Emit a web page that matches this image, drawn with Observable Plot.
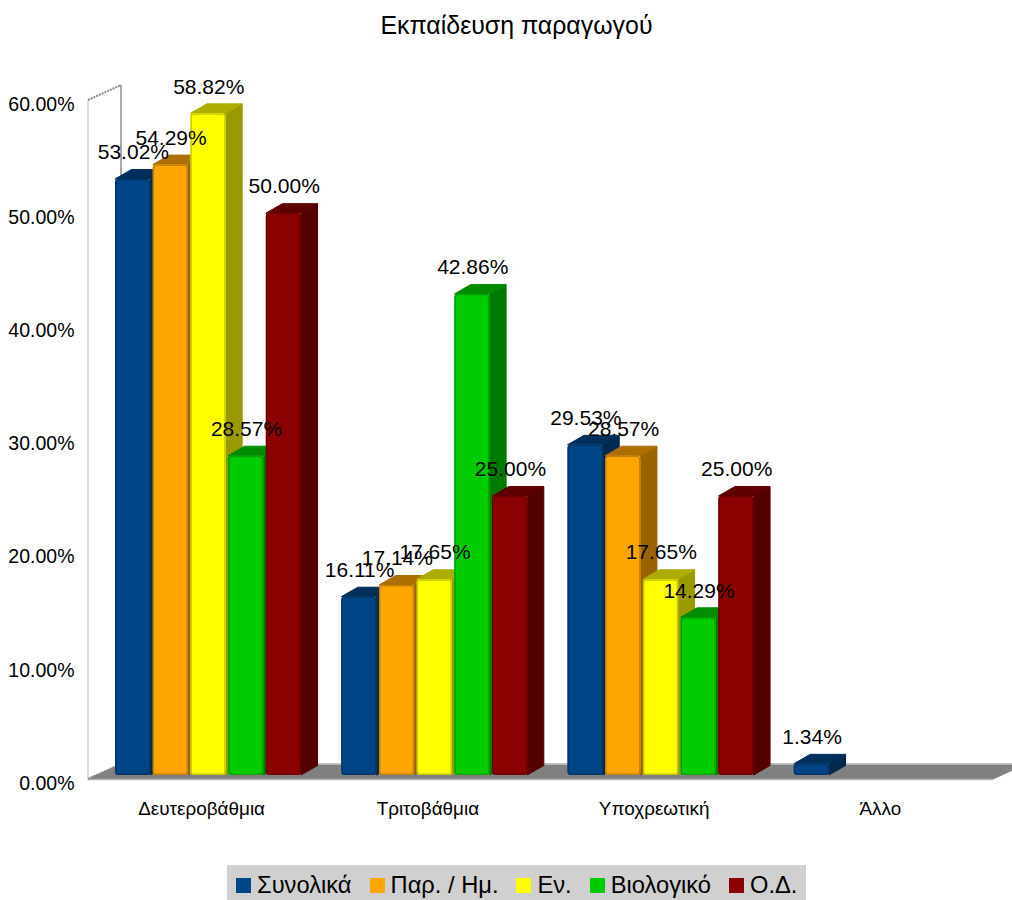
<!DOCTYPE html>
<html lang="el">
<head>
<meta charset="utf-8">
<script src="https://cdn.jsdelivr.net/npm/d3@7"></script>
<script src="https://cdn.jsdelivr.net/npm/@observablehq/plot@0.6"></script>
<style>
  html, body { margin: 0; padding: 0; background: #fff; overflow: hidden; }
  body { width: 1012px; height: 900px; font-family: "Liberation Sans", Arial, sans-serif; color: #000; }
  #title { height: 60px; box-sizing: border-box; padding-top: 10px; text-align: center; font-size: 24.9px; line-height: 30px; padding-left: 21px; }
  #chart svg { display: block; }
  #legend { position: absolute; left: 227px; top: 865px; width: 579px; height: 35px; background: #d0d0d0;
            display: flex; align-items: center; box-sizing: border-box; padding-left: 9px; padding-top: 6px; gap: 18px; font-size: 23.7px; }
  #legend .item { display: flex; align-items: center; gap: 6px; white-space: nowrap; }
  #legend .sw { width: 15px; height: 15px; display: inline-block; }
</style>
</head>
<body>
<div id="title">Εκπαίδευση παραγωγού</div>
<div id="chart"></div>
<div id="legend"></div>
<script>
const categories = ["Δευτεροβάθμια", "Τριτοβάθμια", "Υποχρεωτική", "Άλλο"];
const seriesNames = ["Συνολικά", "Παρ. / Ημ.", "Εν.", "Βιολογικό", "Ο.Δ."];
const seriesColors = ["#004586", "#ffa500", "#ffff00", "#00cc00", "#8b0000"];
const synolika = [53.02, 16.11, 29.53, 1.34];
const parIm = [54.29, 17.14, 28.57, null];
const en = [58.82, 17.65, 17.65, null];
const viologiko = [28.57, 42.86, 14.29, null];
const od = [50.0, 25.0, 25.0, null];
const yTicks = [0, 10, 20, 30, 40, 50, 60];

const rows = [synolika, parIm, en, viologiko, od].flatMap((vals, s) =>
  vals.map((value, c) => ({category: categories[c], series: seriesNames[s], value}))
).filter(d => d.value != null);

// depth of the pseudo-3D extrusion
const barDX = 16.5, barDY = 9.5, wallDX = 33, wallDY = 15;
const NS = "http://www.w3.org/2000/svg";

function poly(doc, pts, fill, stroke) {
  const p = doc.createElementNS(NS, "polygon");
  p.setAttribute("points", pts.map(d => d.join(",")).join(" "));
  p.setAttribute("fill", fill);
  p.setAttribute("stroke", stroke || fill);
  p.setAttribute("stroke-width", 1);
  p.setAttribute("stroke-linejoin", "round");
  return p;
}
function seg(doc, a, b, stroke, width, dash) {
  const l = doc.createElementNS(NS, "line");
  l.setAttribute("x1", a[0]); l.setAttribute("y1", a[1]);
  l.setAttribute("x2", b[0]); l.setAttribute("y2", b[1]);
  l.setAttribute("stroke", stroke); l.setAttribute("stroke-width", width);
  if (dash) l.setAttribute("stroke-dasharray", dash);
  return l;
}
function shade(color, k) {
  const c = d3.rgb(color);
  return d3.rgb(c.r * k, c.g * k, c.b * k).formatHex();
}

function renderRoom(index, scales, values, dims, ctx) {
  const doc = ctx.document;
  const g = doc.createElementNS(NS, "g");
  const L = dims.marginLeft, R = dims.width - dims.marginRight;
  const y0 = scales.y(0), yT = scales.y(60);
  g.appendChild(poly(doc, [[L, y0], [L, yT], [L + wallDX, yT - wallDY], [L + wallDX, y0 - wallDY]], "#ffffff", "#ffffff"));
  g.appendChild(poly(doc, [[L, y0], [R, y0], [R + wallDX, y0 - wallDY], [L + wallDX, y0 - wallDY]], "#808080", "#808080"));
  g.appendChild(seg(doc, [L, y0 + 0.5], [R, y0 + 0.5], "#b4b4b4", 1.5));
  g.appendChild(seg(doc, [L + wallDX, y0 - wallDY], [R + wallDX, y0 - wallDY], "#c4c4c4", 1.5));
  g.appendChild(seg(doc, [L, y0], [L, yT], "#b8b8b8", 1));
  g.appendChild(seg(doc, [L + wallDX, y0 - wallDY], [L + wallDX, yT - wallDY], "#8c8c8c", 1.5));
  g.appendChild(seg(doc, [L, yT], [L + wallDX, yT - wallDY], "#8c8c8c", 2, "2 1"));
  g.appendChild(seg(doc, [L, y0], [L + wallDX, y0 - wallDY], "#8c8c8c", 2, "2 1"));
  return g;
}

function renderBars(index, scales, values, dims, ctx, next) {
  const doc = ctx.document;
  const g = doc.createElementNS(NS, "g");
  const bw = scales.x.bandwidth();
  for (const i of index) {
    const l = values.x[i];
    const r = l + bw - 1.5;
    const top = Math.min(values.y1[i], values.y2[i]);
    const bot = Math.max(values.y1[i], values.y2[i]) - 4;
    const fill = values.fill[i];
    const dark = shade(fill, 0.6);
    g.appendChild(poly(doc, [[r, top], [r + barDX, top - barDY], [r + barDX, bot - barDY], [r, bot]], dark));
    g.appendChild(poly(doc, [[l + 1, top], [r, top], [r + barDX, top - barDY], [l + 1 + barDX, top - barDY]], shade(fill, 0.68)));
    g.appendChild(next([i], scales, values, dims, ctx));
    const edge = doc.createElementNS(NS, "rect");
    edge.setAttribute("x", l + 1.7); edge.setAttribute("y", top + 0.7);
    edge.setAttribute("width", bw - 3.9); edge.setAttribute("height", Math.max(0, bot - top - 1.4));
    edge.setAttribute("rx", 3);
    edge.setAttribute("fill", "none");
    edge.setAttribute("stroke", shade(fill, 0.78));
    edge.setAttribute("stroke-width", 1.4);
    g.appendChild(edge);
  }
  return g;
}

const plot = Plot.plot({
  width: 1012,
  height: 805,
  marginLeft: 88,
  marginRight: 19,
  marginTop: 40,
  marginBottom: 86,
  style: {fontFamily: "'Liberation Sans', Arial, sans-serif", color: "#000", background: "transparent"},
  fx: {domain: categories, padding: 0, axis: null, round: false, label: null},
  x: {domain: seriesNames, axis: null, paddingInner: 0, paddingOuter: 0.5, align: 0.69, round: false, label: null},
  y: {domain: [0, 60], axis: null, label: null},
  color: {domain: seriesNames, range: seriesColors},
  marks: [
    Plot.frame({stroke: "none", facet: "super", render: renderRoom}),
    Plot.axisY({ticks: yTicks, tickSize: 0, tickPadding: 14, fontSize: 19.5, dy: 4, label: null,
                tickFormat: d => d.toFixed(2) + "%"}),
    Plot.axisFx({anchor: "bottom", tickSize: 0, tickPadding: 22, fontSize: 18.9, label: null}),
    Plot.barY(rows, {x: "series", fx: "category", y: "value", fill: "series", insetRight: 1.5, insetLeft: 1,
                     insetBottom: 4, rx: 3, render: renderBars}),
    Plot.text(rows, {x: "series", fx: "category", y: "value", text: d => d.value.toFixed(2) + "%",
                     dy: -27, fontSize: 21, fill: "#000", textAnchor: "middle", lineAnchor: "middle"})
  ]
});
document.getElementById("chart").appendChild(plot);

const legend = d3.select("#legend");
seriesNames.forEach((name, i) => {
  const item = legend.append("div").attr("class", "item");
  item.append("span").attr("class", "sw").style("background", seriesColors[i]);
  item.append("span").text(name);
});
</script>
</body>
</html>
